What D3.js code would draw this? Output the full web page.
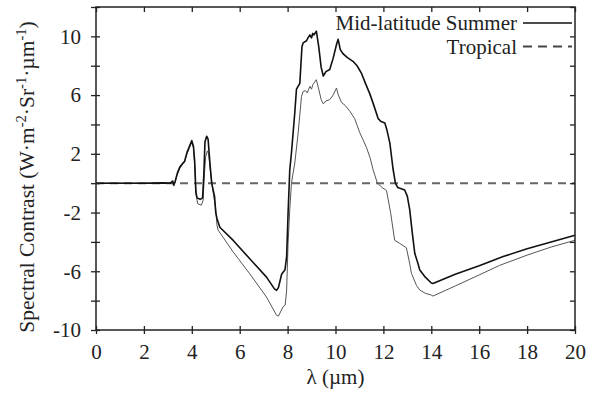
<!DOCTYPE html>
<html>
<head>
<meta charset="utf-8">
<script src="https://cdn.jsdelivr.net/npm/d3@7"></script>
<style>
  body { margin: 0; background: #fff; }
  svg text { font-family: 'Liberation Serif', 'Times New Roman', Times, 'DejaVu Serif', serif !important; fill: #222; }
</style>
</head>
<body>
<svg id="chart" width="601" height="397" font-family="Liberation Serif, Times New Roman, serif"></svg>
<script>
// wavelength (µm) / spectral contrast values
const boldX = [0, 1, 2, 2.8, 3.1, 3.2, 3.25, 3.3, 3.4, 3.5, 3.6, 3.7, 3.8, 3.9, 4.0, 4.07, 4.12, 4.17, 4.22, 4.35, 4.45, 4.5, 4.55, 4.62, 4.68, 4.75, 4.83, 4.95, 5.0, 5.05, 5.17, 5.73, 6.42, 7.12, 7.45, 7.54, 7.62, 7.75, 7.89, 7.96, 8.02, 8.09, 8.16, 8.3, 8.37, 8.51, 8.6, 8.65, 8.79, 8.85, 8.93, 9.0, 9.05, 9.1, 9.2, 9.3, 9.4, 9.49, 9.6, 9.76, 9.9, 10.05, 10.11, 10.2, 10.32, 10.5, 10.73, 10.9, 11.08, 11.25, 11.43, 11.6, 11.78, 11.9, 12.06, 12.15, 12.27, 12.4, 12.5, 12.6, 12.89, 13.0, 13.1, 13.2, 13.31, 13.45, 13.52, 13.75, 14.0, 14.07, 15, 16, 16.57, 17, 18, 19, 20];
const boldY = [0, 0, 0, 0.02, 0, 0.15, -0.1, 0.1, 0.7, 1.1, 1.3, 1.5, 2.1, 2.5, 2.9, 2.5, 1.5, -0.6, -1.0, -1.1, -1.0, 0.5, 2.8, 3.2, 3.0, 1.5, 0, -0.9, -2.0, -2.4, -3.0, -3.9, -5.15, -6.4, -7.2, -7.3, -7.1, -6.2, -5.9, -5.0, -2.05, 0.9, 2.05, 4.8, 6.4, 6.8, 9.3, 9.56, 9.7, 9.9, 10.1, 9.9, 10.2, 10.1, 10.35, 9.3, 7.9, 7.3, 7.6, 7.74, 8.5, 9.5, 9.8, 9.1, 8.8, 8.55, 8.3, 8.0, 7.5, 6.8, 6.1, 5.3, 4.4, 4.2, 4.1, 3.6, 2.73, 1.0, 0, -0.3, -0.46, -0.9, -1.82, -3.3, -4.78, -5.5, -5.92, -6.4, -6.8, -6.83, -6.2, -5.62, -5.26, -5.0, -4.47, -4.0, -3.55];

const thinX = [0, 1, 2, 3.2, 3.25, 3.3, 3.4, 3.5, 3.6, 3.7, 3.8, 3.9, 4.0, 4.07, 4.12, 4.18, 4.25, 4.4, 4.47, 4.52, 4.58, 4.65, 4.7, 4.78, 4.88, 5.0, 5.05, 5.1, 5.73, 6.42, 7.12, 7.54, 7.62, 7.81, 7.9, 7.96, 8.02, 8.09, 8.16, 8.3, 8.44, 8.58, 8.65, 8.75, 8.82, 8.93, 9.0, 9.05, 9.2, 9.3, 9.4, 9.49, 9.6, 9.76, 9.9, 10.04, 10.12, 10.25, 10.4, 10.6, 10.8, 11.01, 11.15, 11.3, 11.45, 11.57, 11.75, 11.95, 12.13, 12.3, 12.47, 12.68, 12.96, 13.1, 13.17, 13.38, 13.52, 13.75, 14.0, 14.07, 15, 16, 16.85, 18, 19, 20];
const thinY = [0, 0, 0, 0, -0.2, 0.05, 0.6, 1.0, 1.25, 1.45, 2.0, 2.4, 2.8, 2.4, 1.2, -0.8, -1.4, -1.5, -1.2, 0.5, 1.8, 2.2, 2.0, 0.8, -0.5, -1.8, -2.85, -3.2, -4.69, -6.17, -7.76, -9.0, -9.05, -8.42, -8.3, -7.28, -4.1, -1.82, 0, 1.37, 3.41, 5.91, 6.25, 6.3, 6.15, 6.6, 6.4, 6.7, 7.05, 6.4, 5.7, 5.4, 5.6, 5.69, 6.0, 6.48, 6.0, 5.5, 5.3, 4.9, 4.4, 3.45, 2.96, 2.4, 1.7, 0.91, 0, -0.3, -0.5, -2.0, -3.89, -4.1, -4.4, -5.49, -6.14, -6.96, -7.28, -7.5, -7.62, -7.69, -7.0, -6.25, -5.6, -4.9, -4.35, -3.89];

const tropicalX = [0, 20];
const tropicalY = [0, 0];

const xTicks = [0, 2, 4, 6, 8, 10, 12, 14, 16, 18, 20];
const yTicks = [-10, -8, -6, -4, -2, 0, 2, 4, 6, 8, 10, 12];
const yLabels = [-10, -6, -2, 2, 6, 10];

const legendNames = ['Mid-latitude Summer', 'Tropical'];

const serif = "'Liberation Serif', 'Times New Roman', serif";
const margin = { top: 7, right: 26, bottom: 67, left: 96 };
const width = 601, height = 397;
const innerW = width - margin.left - margin.right;
const innerH = height - margin.top - margin.bottom;

const svg = d3.select('#chart');
const g = svg.append('g').attr('transform', `translate(${margin.left},${margin.top})`);

const x = d3.scaleLinear().domain([0, 20]).range([0, innerW]);
const y = d3.scaleLinear().domain([-10, 12]).range([innerH, 0]);

const line = d3.line().x(d => x(d[0])).y(d => y(d[1]));
const zip = (xs, ys) => xs.map((v, i) => [v, ys[i]]);

// series
g.append('path')
  .datum(zip(tropicalX, tropicalY))
  .attr('d', line)
  .attr('fill', 'none')
  .attr('stroke', '#666')
  .attr('stroke-width', 2)
  .attr('stroke-dasharray', '8,6');

g.append('path')
  .datum(zip(thinX, thinY))
  .attr('d', line)
  .attr('fill', 'none')
  .attr('stroke', '#555')
  .attr('stroke-width', 1)
  .attr('stroke-linejoin', 'round');

g.append('path')
  .datum(zip(boldX, boldY))
  .attr('d', line)
  .attr('fill', 'none')
  .attr('stroke', '#111')
  .attr('stroke-width', 1.6)
  .attr('stroke-linejoin', 'round');

// axes: outer ticks with labels, inner ticks without, mirrored top/right
const styleAxis = sel => {
  sel.attr('font-family', serif);
  sel.select('.domain').remove();
  sel.selectAll('line').attr('stroke', '#222').attr('stroke-width', 1.3);
  sel.selectAll('text').attr('font-size', 21).attr('fill', '#222').attr('font-family', serif);
};

g.append('g')
  .attr('transform', `translate(0,${innerH})`)
  .call(d3.axisBottom(x).tickValues(xTicks).tickSize(4).tickPadding(10))
  .call(styleAxis);
g.append('g')
  .attr('transform', `translate(0,${innerH})`)
  .call(d3.axisBottom(x).tickValues(xTicks).tickSize(-4).tickFormat(''))
  .call(styleAxis);
g.append('g')
  .call(d3.axisTop(x).tickValues(xTicks).tickSize(-5).tickFormat(''))
  .call(styleAxis);

g.append('g')
  .call(d3.axisLeft(y).tickValues(yTicks).tickSize(5).tickPadding(10)
    .tickFormat(d => yLabels.includes(d) ? d : ''))
  .call(styleAxis);
g.append('g')
  .call(d3.axisLeft(y).tickValues(yTicks).tickSize(-4).tickFormat(''))
  .call(styleAxis);
g.append('g')
  .attr('transform', `translate(${innerW},0)`)
  .call(d3.axisRight(y).tickValues(yTicks).tickSize(-5).tickFormat(''))
  .call(styleAxis);

// frame
g.append('rect')
  .attr('width', innerW).attr('height', innerH)
  .attr('fill', 'none').attr('stroke', '#222').attr('stroke-width', 1.5);

// axis titles
svg.append('text')
  .attr('x', margin.left + innerW / 2)
  .attr('y', 384)
  .attr('text-anchor', 'middle')
  .attr('font-family', serif)
  .attr('font-size', 21)
  .text('λ (µm)');

const yt = svg.append('text')
  .attr('transform', 'translate(34,177) rotate(-90)')
  .attr('text-anchor', 'middle')
  .attr('font-family', serif)
  .attr('font-size', 21.5);
[['Spectral Contrast (W·m', 0], ['-2', -8], ['·Sr', 8], ['-1', -8], ['·µm', 8], ['-1', -8], [')', 8]]
  .forEach(([t, dy]) => {
    yt.append('tspan').attr('dy', dy)
      .attr('font-size', dy < 0 ? 14.5 : 21.5)
      .text(t);
  });

// legend
const legend = svg.append('g');
legendNames.forEach((name, i) => {
  const ly = 23 + i * 23.5;
  legend.append('text')
    .attr('x', 517).attr('y', ly + 7)
    .attr('text-anchor', 'end')
    .attr('font-family', serif)
    .attr('font-size', 21)
    .text(name);
  legend.append('line')
    .attr('x1', 523).attr('x2', 572)
    .attr('y1', ly).attr('y2', ly)
    .attr('stroke', i === 0 ? '#111' : '#444')
    .attr('stroke-width', i === 0 ? 1.6 : 2)
    .attr('stroke-dasharray', i === 0 ? null : '9,6');
});
</script>
</body>
</html>
